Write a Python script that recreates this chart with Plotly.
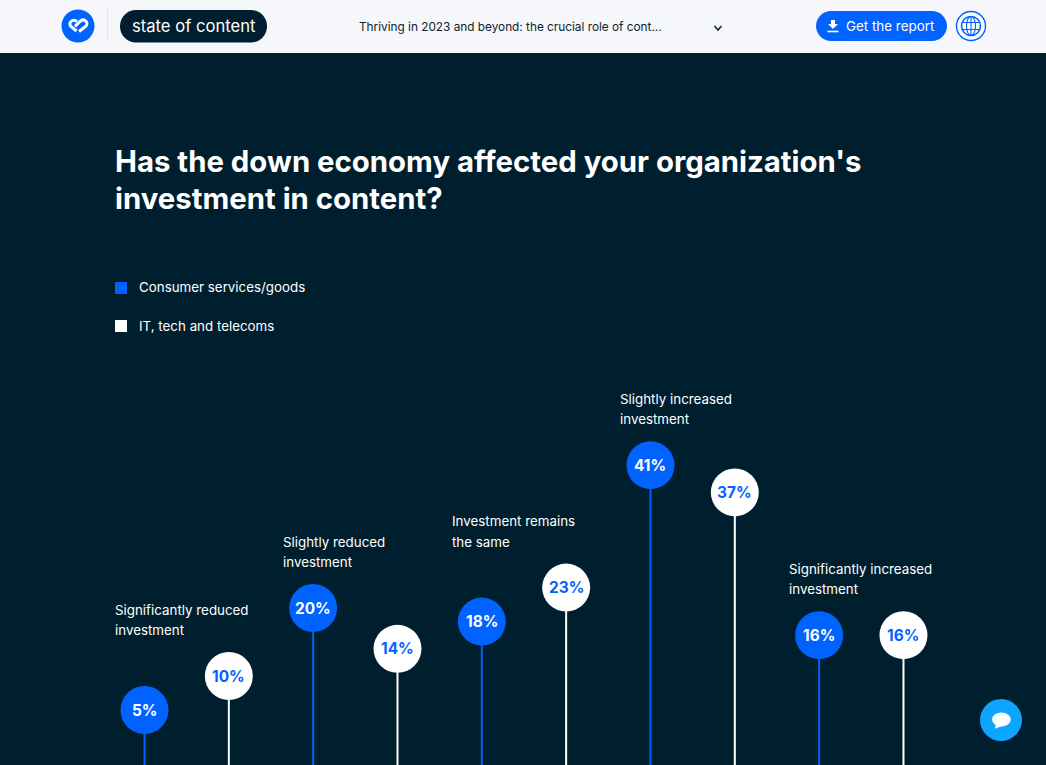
import plotly.graph_objects as go

# ---- data ----
groups = ["Significantly reduced|investment", "Slightly reduced|investment",
          "Investment remains|the same", "Slightly increased|investment",
          "Significantly increased|investment"]
series_names = ["Consumer services/goods", "IT, tech and telecoms"]
consumer = [5, 20, 18, 41, 16]
it_tech = [10, 14, 23, 37, 16]
title_lines = ["Has the down economy affected your organization's", "investment in content?"]

# ---- style ----
W, H = 1046, 765
BLUE, WHITE, DARK = "#0062ff", "#ffffff", "#001f2e"
HEADER = "#f5f7fa"
FONT = "Inter"
PX_PER_UNIT = 6.8
ZERO_Y = 744
X0, STEP = 144.5, 84.33
Y_BOTTOM = -(H - ZERO_Y) / PX_PER_UNIT
Y_TOP = ZERO_Y / PX_PER_UNIT


def fx(x):
    return x / W


def fy(y):
    return 1 - y / H


def poly(cmds, fill=None, close=False, line=None, lw=0):
    parts = []
    for c in cmds:
        coords = c[1:]
        s = []
        for i in range(0, len(coords), 2):
            s.append(f"{fx(coords[i]):.6f},{fy(coords[i + 1]):.6f}")
        parts.append(c[0] + " " + " ".join(s))
    path = " ".join(parts) + (" Z" if close else "")
    return dict(type="path", path=path, xref="paper", yref="paper", layer="above",
                fillcolor=fill if fill else "rgba(0,0,0,0)",
                line=dict(color=line if line else "rgba(0,0,0,0)", width=lw))


def rrect(x0, y0, x1, y1, r, fill):
    k = r * 0.45
    pts = [("M", x0 + r, y0), ("L", x1 - r, y0),
           ("C", x1 - k, y0, x1, y0 + k, x1, y0 + r), ("L", x1, y1 - r),
           ("C", x1, y1 - k, x1 - k, y1, x1 - r, y1), ("L", x0 + r, y1),
           ("C", x0 + k, y1, x0, y1 - k, x0, y1 - r), ("L", x0, y0 + r),
           ("C", x0, y0 + k, x0 + k, y0, x0 + r, y0)]
    return poly(pts, fill, close=True)


def circle(cx, cy, r, fill, line=None, lw=0):
    return dict(type="circle", xref="paper", yref="paper", layer="above",
                x0=fx(cx - r), x1=fx(cx + r), y0=fy(cy + r), y1=fy(cy - r),
                fillcolor=fill if fill else "rgba(0,0,0,0)",
                line=dict(color=line if line else "rgba(0,0,0,0)", width=lw))


def ellipse(cx, cy, rx, ry, fill=None, line=None, lw=0):
    return dict(type="circle", xref="paper", yref="paper", layer="above",
                x0=fx(cx - rx), x1=fx(cx + rx), y0=fy(cy + ry), y1=fy(cy - ry),
                fillcolor=fill if fill else "rgba(0,0,0,0)",
                line=dict(color=line if line else "rgba(0,0,0,0)", width=lw))


def seg(x0, y0, x1, y1, color, lw):
    return dict(type="line", xref="paper", yref="paper", layer="above",
                x0=fx(x0), x1=fx(x1), y0=fy(y0), y1=fy(y1),
                line=dict(color=color, width=lw))


def text(x, y, s, size, color=WHITE, weight=400, anchor="left"):
    return dict(x=fx(x), y=fy(y), xref="paper", yref="paper", text=s, showarrow=False,
                xanchor=anchor, yanchor="middle", align=anchor,
                font=dict(family=FONT, size=size, color=color, weight=weight))


fig = go.Figure()

annotations = [
    text(130, 26, "state of content", 16.6),
    text(356.5, 27, "Thriving in 2023 and beyond: the crucial role of cont...", 11.8, "#10222e"),
    text(844, 26.5, "Get the report", 13.4),
    text(112.5, 161, title_lines[0], 29.35, WHITE, 700),
    text(112.5, 198.5, title_lines[1], 29.35, WHITE, 700),
    text(136.5, 287, series_names[0], 13.35),
    text(136.5, 326, series_names[1], 13.35),
]

# lollipops: two slots per group
for offset, name, vals, fill, txt in [(0, series_names[0], consumer, BLUE, WHITE),
                                       (1, series_names[1], it_tech, WHITE, BLUE)]:
    xs = [2 * i + offset for i in range(len(vals))]
    fig.add_trace(go.Scatter(
        x=xs, y=vals, mode="markers", name=name,
        marker=dict(size=48, color=fill, line=dict(width=0)),
        error_y=dict(type="data", symmetric=False, array=[0] * len(vals),
                     arrayminus=[v - Y_BOTTOM for v in vals],
                     color=fill, thickness=2, width=0),
        cliponaxis=False, showlegend=False))
    for x, v in zip(xs, vals):
        annotations.append(dict(
            x=x, y=v, xref="x", yref="y", text=f"{v}%", showarrow=False,
            xanchor="center", yanchor="middle",
            font=dict(family=FONT, size=15.4, color=txt, weight=700)))

shapes = [
    # header
    dict(type="rect", xref="paper", yref="paper", layer="below", x0=0, x1=1,
         y0=fy(53), y1=1, fillcolor=HEADER, line=dict(width=0)),
    circle(78, 26, 16.5, BLUE),
    seg(107.5, 9, 107.5, 42, "#e2e6ea", 1),
    rrect(120, 10, 267, 42.5, 16, DARK),
    rrect(816, 11, 947, 41, 15, BLUE),
    # globe
    circle(971, 26, 14.5, WHITE, BLUE, 1.4),
    circle(971, 26, 9.5, WHITE, BLUE, 1.6),
    ellipse(971, 26, 4.5, 9.5, None, BLUE, 1.1),
    seg(962, 22.5, 980, 22.5, BLUE, 1.1),
    seg(962, 29.5, 980, 29.5, BLUE, 1.1),
    seg(971, 16.5, 971, 35.5, BLUE, 1.1),
    # logo mark
    poly([("M", 75, 26.3), ("L", 80.5, 21), ("C", 84.5, 18, 89.5, 23, 85.5, 26.5), ("L", 79, 31.5)],
         None, False, WHITE, 3),
    poly([("M", 77, 21.5), ("C", 73, 18.5, 67.5, 22.5, 71, 26.5), ("L", 76.5, 31)],
         None, False, WHITE, 3),
    # chevron
    poly([("M", 714.5, 26), ("L", 718, 30), ("L", 721.5, 26)], None, False, "#10222e", 1.5),
    # download icon
    poly([("M", 831, 20), ("L", 835, 20), ("L", 835, 24), ("L", 838, 24), ("L", 833, 29),
          ("L", 828, 24), ("L", 831, 24)], WHITE, True),
    seg(827.5, 31.5, 838.5, 31.5, WHITE, 1.6),
    # legend
    dict(type="rect", xref="paper", yref="paper", layer="above",
         x0=fx(115), x1=fx(127), y0=fy(294), y1=fy(282), fillcolor=BLUE, line=dict(width=0)),
    dict(type="rect", xref="paper", yref="paper", layer="above",
         x0=fx(115), x1=fx(127), y0=fy(332), y1=fy(320), fillcolor=WHITE, line=dict(width=0)),
    # chat bubble
    circle(1001, 720, 21, "#0ea5ff"),
    ellipse(1001.4, 719.5, 9.3, 7, WHITE),
    poly([("M", 996, 724), ("L", 995, 728.7), ("L", 1002, 726)], WHITE, True),
]

# group labels sit above the taller lollipop of each pair
for i, g in enumerate(groups):
    top = max(consumer[i], it_tech[i])
    first, second = g.split("|")
    for line_text, shift in [(first, 66.5), (second, 46)]:
        annotations.append(dict(
            x=2 * i, y=top, xref="x", yref="y", text=line_text, showarrow=False,
            xanchor="left", yanchor="middle", xshift=-32, yshift=shift, align="left",
            font=dict(family=FONT, size=13.35, color=WHITE)))

fig.update_layout(
    width=W, height=H, autosize=False,
    margin=dict(l=0, r=0, t=0, b=0, pad=0),
    paper_bgcolor=DARK, plot_bgcolor=DARK,
    showlegend=False, shapes=shapes, annotations=annotations,
    xaxis=dict(range=[-X0 / STEP, (W - X0) / STEP], visible=False, fixedrange=True),
    yaxis=dict(range=[Y_BOTTOM, Y_TOP], visible=False, fixedrange=True),
    font=dict(family=FONT),
)

fig.write_html("out.html", config=dict(displayModeBar=False),
               post_script="document.body.style.margin='0';document.body.style.overflow='hidden';")
